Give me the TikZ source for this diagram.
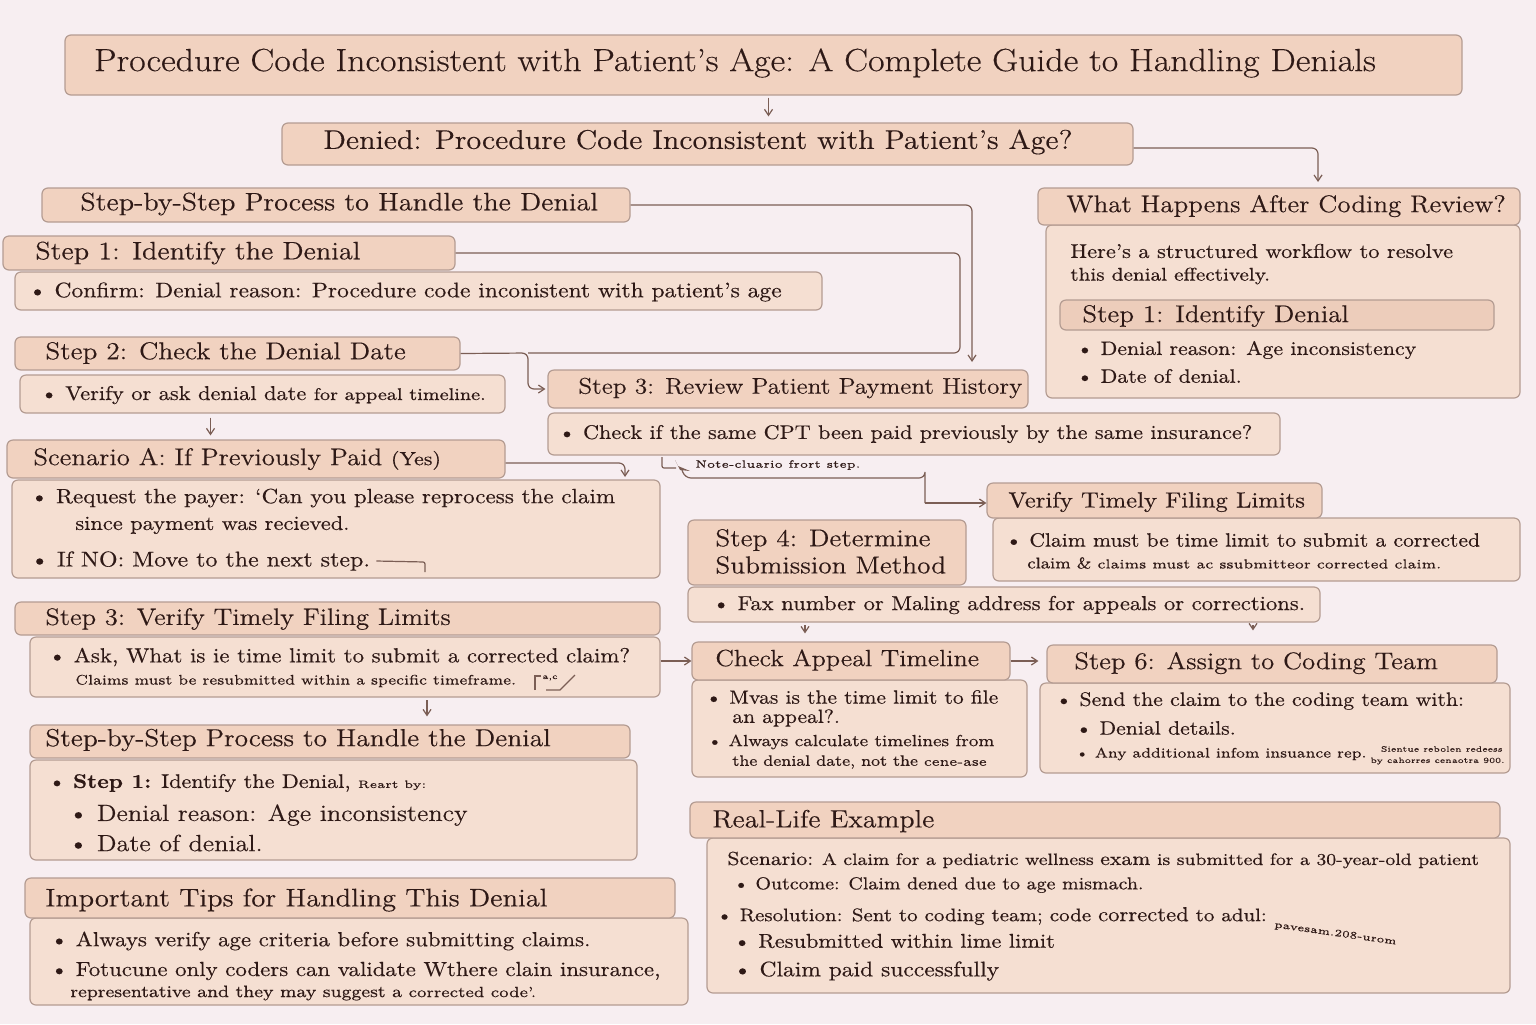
\documentclass[tikz,border=0pt]{standalone}
\usepackage{fontspec}
\setmainfont{Latin Modern Roman}[FakeStretch=1.12,FakeBold=0.35]
\usetikzlibrary{fit,calc,arrows.meta}
\definecolor{bgc}{HTML}{F7EEF1}
\definecolor{hdrc}{HTML}{F1D2C0}
\definecolor{bodyc}{HTML}{F5DFD2}
\definecolor{innc}{HTML}{EDCDBB}
\definecolor{edgec}{HTML}{B49C92}
\definecolor{inkc}{HTML}{2E1916}
\definecolor{linec}{HTML}{7B5E55}
\newcommand{\fs}[1]{\fontsize{#1}{#1}\selectfont}
\tikzset{
  boxbase/.style={draw=edgec, line width=0.6pt, rounded corners=3pt, inner sep=0pt},
  hdr/.style={boxbase, fill=hdrc},
  bodybox/.style={boxbase, fill=bodyc},
  innbox/.style={boxbase, fill=innc},
  txt/.style={text=inkc, inner sep=0pt, anchor=west},
  conn/.style={draw=linec, line width=0.6pt, rounded corners=3pt},
  arr/.style={conn, -{Straight Barb[length=3pt,width=4pt]}}
}
\begin{document}
\begin{tikzpicture}[x=0.5pt,y=-0.5pt]
\fill[bgc] (0,0) rectangle (1536,1024);
\useasboundingbox (0,0) rectangle (1536,1024);

% ---------- boxes ----------
\node[hdr, fit={(65,35) (1462,95)}] (title) {};
\node[hdr, fit={(282,123) (1133,165)}] (denied) {};
\node[hdr, fit={(42,188) (630,222)}] (sbs) {};
\node[bodybox, fit={(15,272) (822,310)}] (s1b) {};
\node[hdr, fit={(3,236) (455,270)}] (s1h) {};
\node[bodybox, fit={(20,375) (505,413)}] (s2b) {};
\node[hdr, fit={(15,337) (460,370)}] (s2h) {};
\node[bodybox, fit={(548,413) (1280,455)}] (s3b) {};
\node[hdr, fit={(548,370) (1028,408)}] (s3h) {};
\node[bodybox, fit={(1046,225) (1520,398)}] (whb) {};
\node[hdr, fit={(1038,188) (1520,225)}] (wh) {};
\node[innbox, fit={(1060,300) (1494,330)}] (wi) {};
\node[bodybox, fit={(12,480) (660,578)}] (sab) {};
\node[hdr, fit={(7,440) (505,478)}] (sah) {};
\node[bodybox, fit={(993,518) (1520,581)}] (vtb) {};
\node[hdr, fit={(987,483) (1322,518)}] (vth) {};
\node[hdr, fit={(688,520) (966,585)}] (s4h) {};
\node[bodybox, fit={(688,587) (1320,622)}] (s4b) {};
\node[bodybox, fit={(30,637) (660,697)}] (s3lb) {};
\node[hdr, fit={(15,602) (660,635)}] (s3lh) {};
\node[bodybox, fit={(692,680) (1027,777)}] (cab) {};
\node[hdr, fit={(692,642) (1010,680)}] (cah) {};
\node[bodybox, fit={(1040,683) (1510,773)}] (s6b) {};
\node[hdr, fit={(1047,645) (1497,683)}] (s6h) {};
\node[bodybox, fit={(30,760) (637,860)}] (sbsb) {};
\node[hdr, fit={(30,725) (630,758)}] (sbsh) {};
\node[bodybox, fit={(707,838) (1510,993)}] (rlb) {};
\node[hdr, fit={(690,802) (1500,838)}] (rlh) {};
\node[bodybox, fit={(30,918) (688,1005)}] (tipb) {};
\node[hdr, fit={(25,878) (675,918)}] (tiph) {};

% ---------- texts ----------
\node[txt, anchor=center, font=\fs{16}] (ttitle) at (735,63) {Procedure Code Inconsistent with Patient’s Age: A Complete Guide to Handling Denials};
\node[txt, anchor=center, font=\fs{13.5}] (tdenied) at (698,142) {Denied: Procedure Code Inconsistent with Patient’s Age?};
\node[txt, font=\fs{12.6}] (tsbs) at (80,204) {Step-by-Step Process to Handle the Denial};
\node[txt, font=\fs{12.6}] (ts1h) at (35,253) {Step 1: Identify the Denial};
\node[txt, font=\fs{10.5}] (ts1b) at (28,292) {• Confirm: Denial reason: Procedure code inconistent with patient’s age};
\node[txt, font=\fs{12.2}] (ts2h) at (45,353) {Step 2: Check the Denial Date};
\node[txt, font=\fs{10}] (ts2b) at (40,395) {• Verify or ask denial date {\fs{8.5}for appeal timeline.}};
\node[txt, font=\fs{11.3}] (ts3h) at (578,388) {Step 3: Review Patient Payment History};
\node[txt, font=\fs{9.9}] (ts3b) at (558,434) {• Check if the same CPT been paid previously by the same insurance?};
\node[txt, font=\fs{5.3}] (tnote) at (695,465) {Note-cluario frort step.};
\node[txt, font=\fs{12.05}] (twh) at (1066,206) {What Happens After Coding Review?};
\node[txt, font=\fs{10}] (twh1) at (1070,251) {Here’s a structured workflow to resolve};
\node[txt, font=\fs{9.2}] (twh2) at (1070,276) {this denial effectively.};
\node[txt, font=\fs{12.1}] (twi) at (1082,316) {Step 1: Identify Denial};
\node[txt, font=\fs{9.75}] (twi1) at (1076,350) {• Denial reason: Age inconsistency};
\node[txt, font=\fs{9.75}] (twi2) at (1076,376) {• Date of denial.};
\node[txt, font=\fs{12}] (tsah) at (33,459) {Scenario A: If Previously Paid {\fs{9.5}(Yes)}};
\node[txt, font=\fs{10.3}] (tsab1) at (30,498) {• Request the payer: ‘Can you please reprocess the claim};
\node[txt, font=\fs{10}] (tsab2) at (75,525) {since payment was recieved.};
\node[txt, font=\fs{10.7}] (tsab3) at (30,561) {• If NO: Move to the next step.};
\node[txt, font=\fs{11}] (tvth) at (1008,502) {Verify Timely Filing Limits};
\node[txt, font=\fs{9.65}] (tvtb1) at (1005,540) {• Claim must be time limit to submit a corrected};
\node[txt, font=\fs{7.8}] (tvtb2) at (1027,563) {claim \& {\fs{6.5}claims must ac ssubmitteor corrected claim.}};
\node[txt, font=\fs{12.2}] (ts4a) at (715,540) {Step 4: Determine};
\node[txt, font=\fs{12.2}] (ts4b) at (715,565) {Submission Method};
\node[txt, font=\fs{10.1}] (ts4c) at (712,605) {• Fax number or Maling address for appeals or corrections.};
\node[txt, font=\fs{11.9}] (ts3lh) at (45,619) {Step 3: Verify Timely Filing Limits};
\node[txt, font=\fs{10.2}] (ts3l1) at (48,657) {• Ask, What is ie time limit to submit a corrected claim?};
\node[txt, font=\fs{6.93}] (ts3l2) at (75,681) {Claims must be resubmitted within a specific timeframe.};
\node[txt, font=\fs{11.7}] (tcah) at (715,660) {Check Appeal Timeline};
\node[txt, font=\fs{9.6}] (tca1) at (705,697) {• Mvas is the time limit to file};
\node[txt, font=\fs{9.6}] (tca2) at (732,718) {an appeal?.};
\node[txt, font=\fs{8.05}] (tca3) at (707,742) {• Always calculate timelines from};
\node[txt, font=\fs{7.55}] (tca4) at (732,762) {the denial date, not the {\fs{6.4}cene-ase}};
\node[txt, font=\fs{12}] (ts6h) at (1074,663) {Step 6: Assign to Coding Team};
\node[txt, font=\fs{9.7}] (ts61) at (1055,701) {• Send the claim to the coding team with:};
\node[txt, font=\fs{9.7}] (ts62) at (1075,728) {• Denial details.};
\node[txt, font=\fs{6.9}] (ts63) at (1075,754) {• Any additional infom insuance rep.};
\node[txt, font=\fs{3.9}, anchor=east] (ts64) at (1503,749) {Sientue rebolen redeess};
\node[txt, font=\fs{3.9}, anchor=east] (ts65) at (1505,761) {by cahorres cenaotra 900.};
\node[txt, font=\fs{12.3}] (tsbsh) at (45,740) {Step-by-Step Process to Handle the Denial};
\node[txt, font=\fs{9.9}] (tsbs1) at (48,783) {• \textbf{Step 1:} Identify the Denial, {\fs{5.4}Reart by:}};
\node[txt, font=\fs{11.7}] (tsbs2) at (68,815) {• Denial reason: Age inconsistency};
\node[txt, font=\fs{11.7}] (tsbs3) at (68,843) {• Date of denial.};
\node[txt, font=\fs{12.5}] (trlh) at (712,821) {Real-Life Example};
\node[txt, font=\fs{8.28}] (trl1) at (727,860) {{\fs{9.45}Scenario:} A claim for a pediatric wellness {\fs{9.45}exam} is submitted for a 30-year-old patient};
\node[txt, font=\fs{8.65}] (trl2) at (733,885) {• Outcome: Claim dened due to age mismach.};
\node[txt, font=\fs{9.1}] (trl3) at (716,916) {• Resolution: Sent to coding team; code {\fs{10.1}corrected} to adul:};
\node[txt, font=\fs{5}, rotate=-8] (trl3b) at (1274,925) {pavesam.208-urom};
\node[txt, font=\fs{10}] (trl4) at (733,941) {• Resubmitted within lime limit};
\node[txt, font=\fs{10.5}] (trl5) at (733,971) {• Claim paid successfully};
\node[txt, font=\fs{12.7}] (ttiph) at (45,900) {Important Tips for Handling This Denial};
\node[txt, font=\fs{10.2}] (ttip1) at (50,941) {• Always verify age criteria before submitting claims.};
\node[txt, font=\fs{10.2}] (ttip2) at (50,971) {• Fotucune only coders can validate Wthere clain insurance,};
\node[txt, font=\fs{8.3}] (ttip3) at (70,993) {representative and they may suggest a {\fs{7.4}corrected code’.}};

% ---------- connectors ----------
\coordinate (cA) at (1318,182);
\coordinate (cB) at (972,362);
\coordinate (cC) at (960,353);
\coordinate (cD) at (528,353);
\coordinate (cE) at (625,477);
\coordinate (cF) at (662,457);
\coordinate (cG) at (682,470);
\coordinate (cH) at (925,478);
\coordinate (cI) at (925,503);
\coordinate (cJ) at (425,562);
\coordinate (cK) at (805,625);
\coordinate (cL) at (1253,625);
\coordinate (cM) at (427,700);

\draw[arr] ([xshift=2.5pt,yshift=-1pt]title.south) -- ([xshift=2.5pt,yshift=3pt]title.south |- denied.north);
\draw[arr] ([yshift=-2pt]denied.east) -| (cA);
\draw[arr] (sbs.east) -| (cB);
\draw[conn] (s1h.east) -| (cC) -- (cD);
\draw[arr] (s2h.east) -- (cD) |- ([xshift=-1pt]s3h.west);
\draw[arr] ([xshift=-26pt,yshift=-2pt]s2b.south) -- ([xshift=-26pt,yshift=2pt]s2b.south |- sah.north);
\draw[arr] ([yshift=-2pt]sah.east) -| (cE);
% note connector
\draw[conn, rounded corners=1pt] (cF) -- ++(0,11) -- ++(14,0);
\fill[linec] (675,460) -- (680,470) -- (690,471) -- (678,466) -- cycle;
\draw[conn] (cG) -- ++(3,8) -| (cH) -- (cI);
\draw[arr] (cI) -- (vth.west |- cI);
\draw[conn, rounded corners=1pt] ([xshift=3pt]tsab3.east) -- (cJ) -- ++(0,10);
% odd glyph
\draw[conn, rounded corners=0pt] (535,690) -- (535,676) -- (541,676);
\node[txt, font=\fs{4}] (tglyph) at (542,678) {a,c};
\draw[conn, rounded corners=0pt] (546,690) -- (560,690) -- (575,675);
\draw[arr] (cah.west -| s3lb.east) -- (cah.west);
\draw[arr] (cM) -- ([yshift=4pt]cM |- sbsh.north);
\draw[arr] (cK) -- ([yshift=4pt]cK |- cah.north);
\draw[arr] (cL) -- ([yshift=7pt]cL |- s6h.north);
\draw[arr] (cah.east) -- ([xshift=-4pt]cah.east -| s6h.west);
\end{tikzpicture}
\end{document}
